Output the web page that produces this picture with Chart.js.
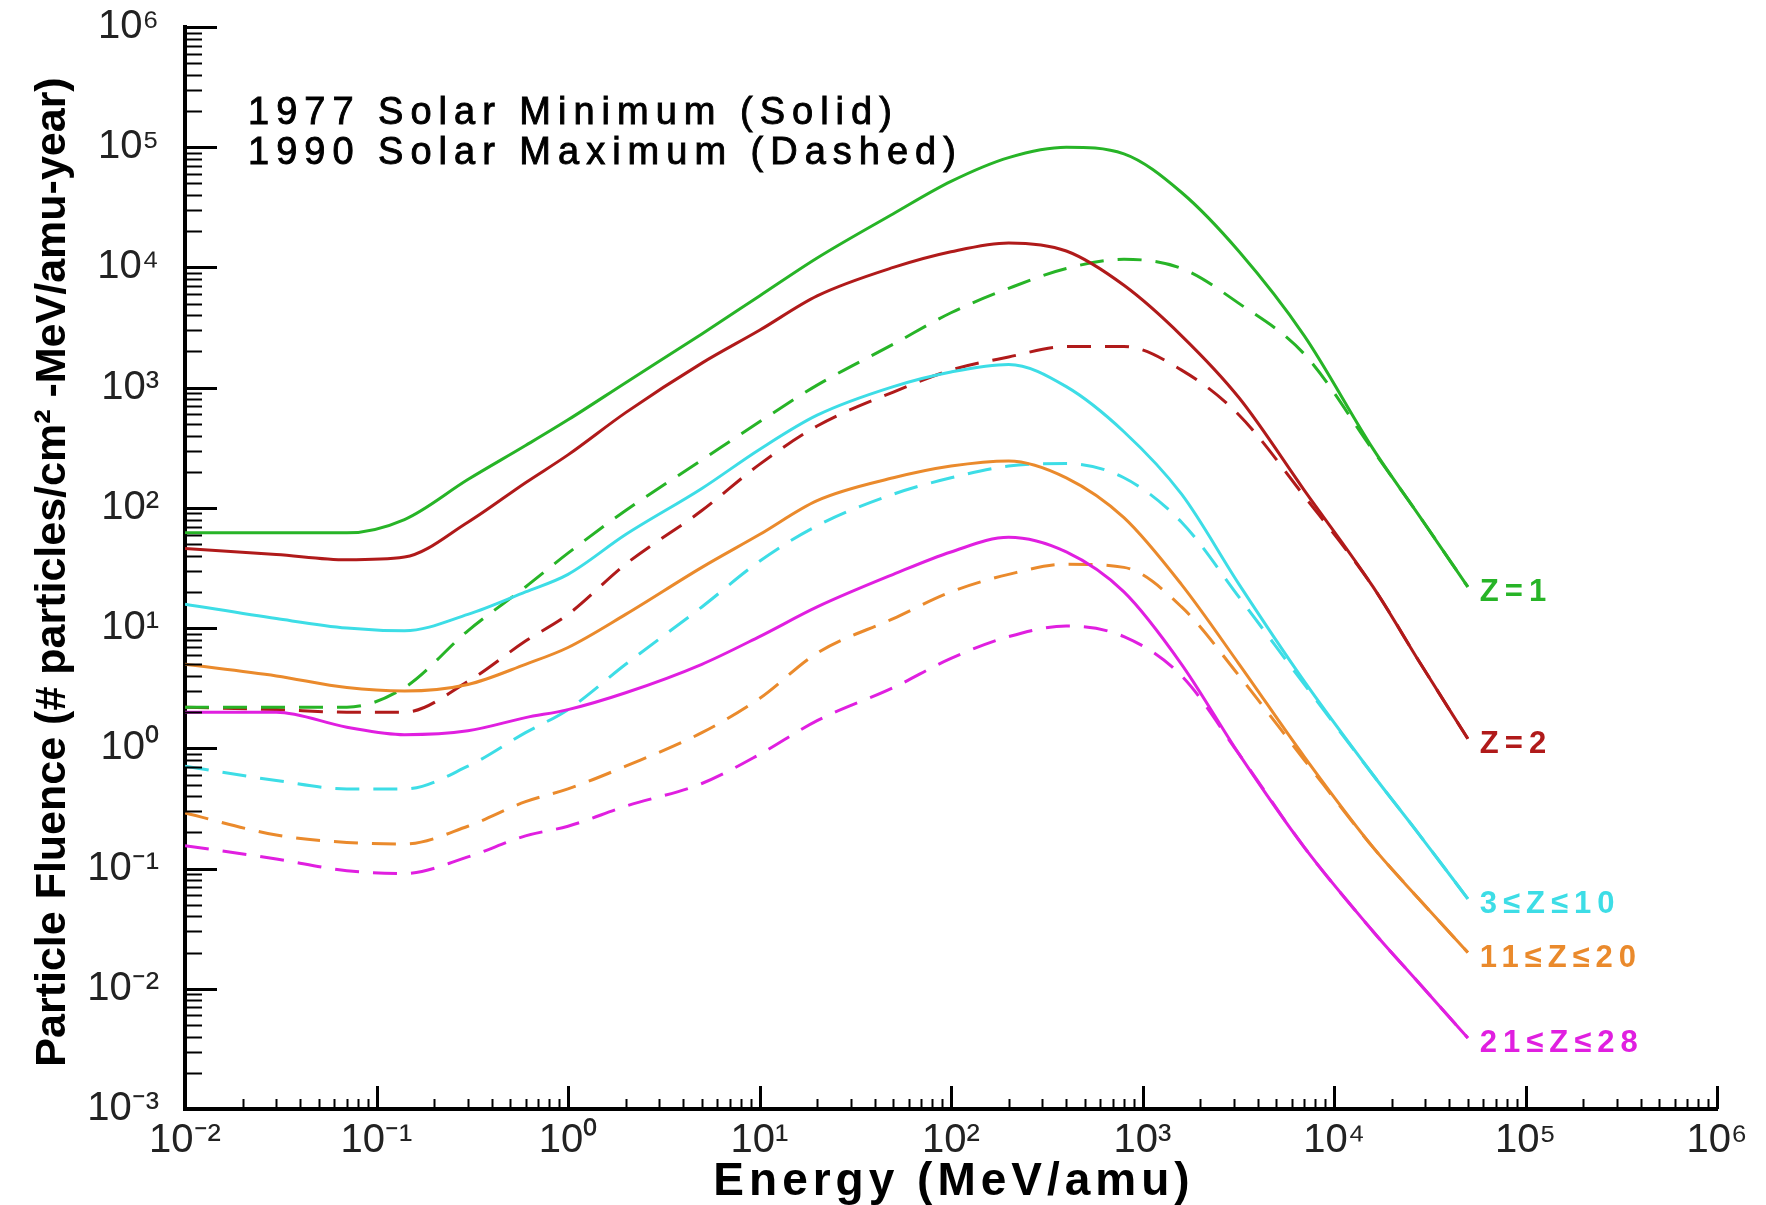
<!DOCTYPE html>
<html lang="en">
<head>
<meta charset="UTF-8">
<title>Particle Fluence vs Energy</title>
<script src="https://cdn.jsdelivr.net/npm/chart.js"></script>
<style>
    body { margin: 0; background: #fff; }
    #wrap { width: 1766px; height: 1205px; }
</style>
</head>
<body>
<div id="wrap"><canvas id="chart" width="1766" height="1205"></canvas></div>
<script>
// energy grid (MeV/amu)
const ENERGY = [0.01, 0.03, 0.07, 0.14, 0.3, 0.6, 1, 2, 5, 10, 20, 50, 100, 200, 400, 800, 1600, 3200, 7000, 16000, 28000, 50000];

// 1977 solar minimum (solid)
const Z1_MIN = [62, 62, 62, 80, 172, 330, 540, 1100, 2800, 5800, 12000, 28000, 52000, 82000, 100000, 88000, 42000, 13500, 2700, 310, 85, 22];
const Z2_MIN = [46, 41, 37, 39, 76, 162, 276, 620, 1600, 3000, 5800, 10000, 13500, 16000, 13700, 7100, 2700, 820, 140, 22, 5.2, 1.2];
const Z3_10_MIN = [15.8, 12, 10, 9.5, 13, 20, 28, 60, 145, 306, 590, 1020, 1350, 1560, 1020, 430, 130, 23, 3.6, 0.6, 0.19, 0.056];
const Z11_20_MIN = [5.0, 4.0, 3.2, 3.0, 3.4, 5.0, 6.9, 13, 32, 60, 115, 178, 223, 246, 178, 83, 23, 5, 0.85, 0.15, 0.055, 0.02];
const Z21_28_MIN = [2.0, 2.0, 1.5, 1.3, 1.4, 1.8, 2.1, 2.9, 5.0, 8.5, 15, 28, 43, 57, 43, 20, 5, 0.89, 0.15, 0.03, 0.011, 0.0039];

// 1990 solar maximum (dashed)
const Z1_MAX = [2.2, 2.2, 2.2, 3.2, 9.5, 22, 42, 95, 250, 520, 1050, 2300, 4200, 6700, 9800, 11700, 9800, 5000, 1900, 300, 85, 22];
const Z2_MAX = [2.2, 2.1, 2.0, 2.0, 3.6, 7.8, 13, 34, 95, 230, 480, 920, 1400, 1800, 2200, 2200, 1400, 590, 125, 22, 5.2, 1.2];
const Z3_10_MAX = [0.71, 0.54, 0.46, 0.46, 0.71, 1.35, 2.1, 5, 15, 36, 71, 130, 178, 223, 234, 178, 76, 18, 3.4, 0.6, 0.19, 0.056];
const Z11_20_MAX = [0.29, 0.19, 0.165, 0.16, 0.225, 0.36, 0.46, 0.71, 1.35, 2.6, 6.2, 12, 20, 28, 34, 32, 15, 4, 0.8, 0.15, 0.055, 0.02];
const Z21_28_MAX = [0.155, 0.12, 0.096, 0.091, 0.125, 0.187, 0.225, 0.33, 0.51, 0.89, 1.7, 3.2, 5.6, 8.5, 10.4, 8.5, 4, 0.89, 0.15, 0.03, 0.011, 0.0039];

const SERIES_LABELS = ['Z=1', 'Z=2', '3\u2264Z\u226410', '11\u2264Z\u226420', '21\u2264Z\u226428'];
const SERIES_COLORS = ['#27b427', '#b01a1a', '#3ddde6', '#ea8a2c', '#e01fe0'];
const MIN_SERIES = [Z1_MIN, Z2_MIN, Z3_10_MIN, Z11_20_MIN, Z21_28_MIN];
const MAX_SERIES = [Z1_MAX, Z2_MAX, Z3_10_MAX, Z11_20_MAX, Z21_28_MAX];

const X_TICKS = [1e-2, 1e-1, 1e0, 1e1, 1e2, 1e3, 1e4, 1e5, 1e6];
const Y_TICKS = [1e-3, 1e-2, 1e-1, 1e0, 1e1, 1e2, 1e3, 1e4, 1e5, 1e6];

const LEGEND_LINES = ['1977 Solar Minimum (Solid)', '1990 Solar Maximum (Dashed)'];
const X_TITLE = 'Energy (MeV/amu)';
const Y_TITLE = 'Particle Fluence (# particles/cm\u00b2 -MeV/amu-year)';

const FONT = "'Liberation Sans', Arial, sans-serif";

const SUP = {'-': '\u207b', '0': '\u2070', '1': '\u00b9', '2': '\u00b2', '3': '\u00b3',
    '4': '\u2074', '5': '\u2075', '6': '\u2076', '7': '\u2077', '8': '\u2078', '9': '\u2079'};
function powLabel(v) {
    const e = Math.round(Math.log10(v));
    return '10' + String(e).split('').map(c => SUP[c]).join('');
}

function toPoints(arr) {
    return ENERGY.map((e, i) => ({x: e, y: arr[i]}));
}

const datasets = [];
MIN_SERIES.forEach((arr, i) => {
    datasets.push({
        label: SERIES_LABELS[i] + ' (1977)',
        data: toPoints(arr),
        borderColor: SERIES_COLORS[i],
        borderWidth: 3,
        pointRadius: 0,
        cubicInterpolationMode: 'monotone'
    });
});
MAX_SERIES.forEach((arr, i) => {
    datasets.push({
        label: SERIES_LABELS[i] + ' (1990)',
        data: toPoints(arr),
        borderColor: SERIES_COLORS[i],
        borderWidth: 3,
        borderDash: [24, 14],
        pointRadius: 0,
        cubicInterpolationMode: 'monotone'
    });
});

// inward tick marks, 1..9 per decade
const axisTicks = {
    id: 'axisTicks',
    afterDraw(chart) {
        const {ctx, chartArea, scales: {x, y}} = chart;
        ctx.save();
        ctx.strokeStyle = '#000';
        for (let d = -2; d <= 6; d++) {
            for (let m = 1; m <= 9; m++) {
                if (d === 6 && m > 1) break;
                const px = Math.round(x.getPixelForValue(m * Math.pow(10, d))) + 0.5;
                ctx.lineWidth = m === 1 ? 3 : 2;
                ctx.beginPath();
                ctx.moveTo(px, chartArea.bottom);
                ctx.lineTo(px, chartArea.bottom - (m === 1 ? 23 : 10));
                ctx.stroke();
            }
        }
        for (let d = -3; d <= 6; d++) {
            for (let m = 1; m <= 9; m++) {
                if (d === 6 && m > 1) break;
                const py = Math.round(y.getPixelForValue(m * Math.pow(10, d))) + 0.5;
                ctx.lineWidth = m === 1 ? 3 : 2;
                ctx.beginPath();
                ctx.moveTo(chartArea.left, py);
                ctx.lineTo(chartArea.left + (m === 1 ? 32 : 17), py);
                ctx.stroke();
            }
        }
        ctx.restore();
    }
};

// titles, legend text and series names
const annotations = {
    id: 'annotations',
    afterDraw(chart) {
        const {ctx, chartArea, scales: {x, y}} = chart;
        ctx.save();
        ctx.fillStyle = '#000';
        ctx.strokeStyle = '#000';

        // x title
        ctx.font = 'bold 46px ' + FONT;
        ctx.letterSpacing = '5px';
        ctx.textAlign = 'center';
        ctx.textBaseline = 'alphabetic';
        ctx.fillText(X_TITLE, (chartArea.left + chartArea.right) / 2 + 3, 1195);

        // y title
        ctx.font = 'bold 43px ' + FONT;
        ctx.letterSpacing = '0px';
        ctx.save();
        ctx.translate(53, (chartArea.top + chartArea.bottom) / 2 + 4);
        ctx.rotate(-Math.PI / 2);
        ctx.textBaseline = 'middle';
        ctx.fillText(Y_TITLE, 0, 0);
        ctx.restore();

        // solid / dashed note (slightly heavier than regular)
        ctx.font = '38px ' + FONT;
        ctx.letterSpacing = '7px';
        ctx.textAlign = 'left';
        ctx.textBaseline = 'alphabetic';
        ctx.lineWidth = 0.9;
        LEGEND_LINES.forEach((t, i) => {
            ctx.fillText(t, 248, 124 + i * 40);
            ctx.strokeText(t, 248, 124 + i * 40);
        });

        // series names at the end of the solid curves
        ctx.font = 'bold 31px ' + FONT;
        ctx.letterSpacing = '6px';
        ctx.textBaseline = 'middle';
        MIN_SERIES.forEach((arr, i) => {
            const n = arr.length - 1;
            const px = x.getPixelForValue(ENERGY[n]) + 12;
            const py = y.getPixelForValue(arr[n]) + 6;
            ctx.fillStyle = SERIES_COLORS[i];
            ctx.fillText(SERIES_LABELS[i], px, py);
        });
        ctx.restore();
    }
};

const tickFont = {family: FONT, size: 40};

new Chart(document.getElementById('chart').getContext('2d'), {
    type: 'line',
    data: {datasets: datasets},
    options: {
        responsive: false,
        animation: false,
        devicePixelRatio: 1,
        layout: {padding: {top: 27, right: 49, left: 0, bottom: 0}},
        plugins: {legend: {display: false}, tooltip: {enabled: false}},
        scales: {
            x: {
                type: 'logarithmic',
                min: 1e-2,
                max: 1e6,
                afterBuildTicks: scale => { scale.ticks = X_TICKS.map(v => ({value: v})); },
                afterFit: scale => {
                    scale.height = 96;
                    scale.paddingLeft = 0;
                    scale.paddingRight = 0;
                },
                grid: {display: false, drawTicks: false},
                border: {display: true, width: 4, color: '#000'},
                ticks: {
                    autoSkip: false,
                    maxRotation: 0,
                    padding: 8,
                    color: '#222',
                    font: tickFont,
                    callback: v => powLabel(v)
                }
            },
            y: {
                type: 'logarithmic',
                min: 1e-3,
                max: 1e6,
                afterBuildTicks: scale => { scale.ticks = Y_TICKS.map(v => ({value: v})); },
                afterFit: scale => {
                    scale.width = 185;
                    scale.paddingTop = 0;
                    scale.paddingBottom = 0;
                },
                grid: {display: false, drawTicks: false},
                border: {display: true, width: 4, color: '#000'},
                ticks: {
                    autoSkip: false,
                    padding: 26,
                    color: '#222',
                    font: tickFont,
                    callback: v => powLabel(v)
                }
            }
        }
    },
    plugins: [axisTicks, annotations]
});
</script>
</body>
</html>
